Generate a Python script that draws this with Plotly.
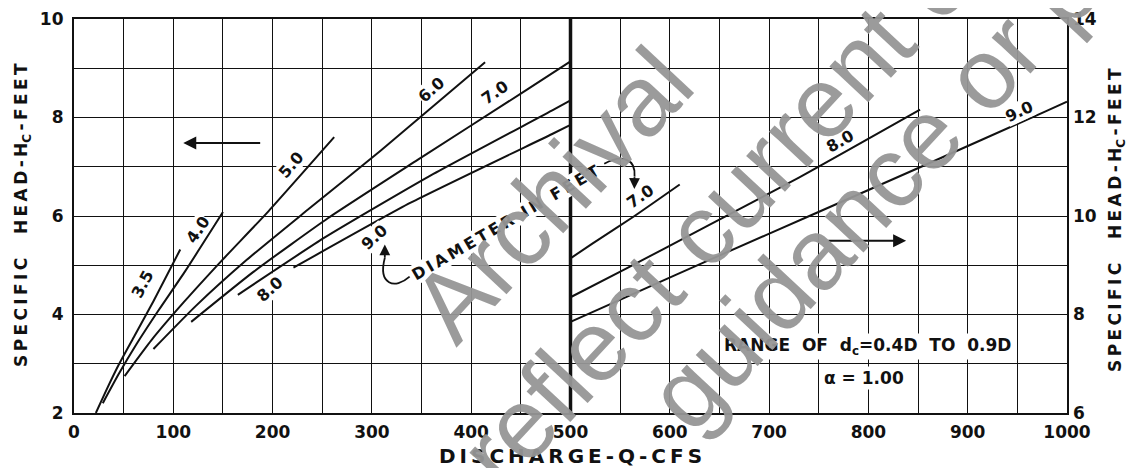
import plotly.graph_objects as go

# ---------------- data ----------------
# Left half: discharge 0-500 cfs, specific head on the LEFT scale (2-10 ft)
q_35 = [22, 32, 45, 61, 80, 107]
h_35 = [2.00, 2.44, 2.98, 3.57, 4.27, 5.32]
q_40 = [29, 45, 63, 85, 112, 150]
h_40 = [2.20, 2.79, 3.40, 4.08, 4.88, 6.08]
q_50 = [51, 78, 111, 149, 196, 262]
h_50 = [2.75, 3.48, 4.26, 5.10, 6.10, 7.60]
q_60 = [80, 123, 174, 235, 309, 414]
h_60 = [3.30, 4.18, 5.11, 6.12, 7.33, 9.12]
q_70_left = [118, 181, 256, 346, 455, 500]
h_70_left = [3.85, 4.87, 5.96, 7.14, 8.55, 9.14]
q_80_left = [165, 253, 358, 483, 500]
h_80_left = [4.40, 5.57, 6.81, 8.16, 8.35]
q_90_left = [221, 339, 481, 500]
h_90_left = [4.95, 6.27, 7.66, 7.85]

# Right half: discharge 500-1000 cfs, specific head on the RIGHT scale (6-14 ft)
q_70_right = [500, 522, 563, 610]
h_70_right = [9.14, 9.44, 9.98, 10.64]
q_80_right = [500, 555, 635, 730, 852]
h_80_right = [8.35, 8.92, 9.77, 10.78, 12.16]
q_90_right = [500, 561, 648, 744, 852, 979, 1000]
h_90_right = [7.85, 8.40, 9.18, 10.03, 10.99, 12.13, 12.32]

x_ticks = [0, 100, 200, 300, 400, 500, 600, 700, 800, 900, 1000]
y_left_ticks = [2, 4, 6, 8, 10]
y_right_ticks = [6, 8, 10, 12, 14]

left_curves = [(q_35, h_35), (q_40, h_40), (q_50, h_50), (q_60, h_60),
               (q_70_left, h_70_left), (q_80_left, h_80_left), (q_90_left, h_90_left)]
right_curves = [(q_70_right, h_70_right), (q_80_right, h_80_right), (q_90_right, h_90_right)]

# ---------------- figure ----------------
# the page body adds an 8px margin; the figure is sized to fit inside the window
BODY = 8
W, H = 1120, 460
ML, MR, MT, MB = 66, 61, 11, 55
PW, PH = W - ML - MR, H - MT - MB

FONT = "DejaVu Sans"
INK = "#111111"
TS = "\u2009"  # thin space used for the lettering's wide spacing


def spaced(s):
    return TS.join(list(s))


fig = go.Figure()
for q, h in left_curves:
    fig.add_trace(go.Scatter(x=q, y=h, mode="lines", yaxis="y",
                             line=dict(color=INK, width=2, shape="spline", smoothing=0.5),
                             showlegend=False, hoverinfo="skip"))
for q, h in right_curves:
    fig.add_trace(go.Scatter(x=q, y=h, mode="lines", yaxis="y2",
                             line=dict(color=INK, width=2, shape="spline", smoothing=0.5),
                             showlegend=False, hoverinfo="skip"))

tickfont = dict(family=FONT, size=17, color=INK, weight="bold")

fig.update_layout(
    width=W, height=H,
    margin=dict(l=ML, r=MR, t=MT, b=MB, pad=0, autoexpand=False),
    paper_bgcolor="white", plot_bgcolor="white",
    xaxis=dict(range=[0, 1000], tickmode="array", tickvals=x_ticks,
               ticktext=[str(v) for v in x_ticks], ticks="",
               showgrid=True, gridcolor=INK, gridwidth=1.4,
               minor=dict(dtick=50, tick0=0, showgrid=True, gridcolor=INK, gridwidth=1.4),
               showline=True, linecolor=INK, linewidth=2.2, mirror=True,
               zeroline=False, tickfont=tickfont, ticklabelstandoff=2, automargin=False),
    yaxis=dict(range=[2, 10], tickmode="array", tickvals=y_left_ticks,
               ticktext=[str(v) for v in y_left_ticks], ticks="",
               showgrid=True, gridcolor=INK, gridwidth=1.4,
               minor=dict(dtick=1, tick0=0, showgrid=True, gridcolor=INK, gridwidth=1.4),
               showline=True, linecolor=INK, linewidth=2.2, mirror=True,
               zeroline=False, tickfont=tickfont, ticklabelstandoff=5, automargin=False),
    yaxis2=dict(range=[6, 14], overlaying="y", side="right", anchor="x",
                tickmode="array", tickvals=y_right_ticks,
                ticktext=[str(v) for v in y_right_ticks], ticks="",
                showgrid=False, zeroline=False, showline=False,
                tickfont=tickfont, ticklabelstandoff=5, automargin=False),
)

# heavy divider at Q = 500
fig.add_shape(type="line", xref="x", yref="paper", x0=500, x1=500, y0=0, y1=1,
              line=dict(color=INK, width=3.5))


def px_to_paper(sx, sy):
    """screen pixel (window coords) -> paper coords"""
    fx, fy = sx - BODY, sy - BODY
    return (fx - ML) / PW, (H - MB - fy) / PH


def note(**kw):
    kw.setdefault("xanchor", "center")
    kw.setdefault("yanchor", "middle")
    kw.setdefault("showarrow", False)
    fig.add_annotation(**kw)


# axis titles
title_font = dict(family=FONT, size=17, color=INK, weight="bold")
x0, y0 = px_to_paper(22, 215)
note(text=spaced("SPECIFIC") + "    " + spaced("HEAD-H") + "<sub>C</sub>" + TS + spaced("-FEET"),
     xref="paper", yref="paper", x=x0, y=y0, textangle=-90, font=title_font)
x0, y0 = px_to_paper(1116, 220)
note(text=spaced("SPECIFIC") + "    " + spaced("HEAD-H") + "<sub>C</sub>" + TS + spaced("-FEET"),
     xref="paper", yref="paper", x=x0, y=y0, textangle=-90, font=title_font)
x0, y0 = px_to_paper(570, 456)
note(text=spaced("DISCHARGE-Q-CFS"), xref="paper", yref="paper", x=x0, y=y0,
     font=dict(family=FONT, size=20, color=INK, weight="bold"))

# curve labels
label_font = dict(family=FONT, size=16, color=INK, weight="bold")
labels = [
    ("3.5", 69, 4.60, "y", -62),
    ("4.0", 125, 5.72, "y", -56),
    ("5.0", 219, 7.04, "y", -49),
    ("6.0", 360, 8.57, "y", -41),
    ("7.0", 424, 8.50, "y", -35),
    ("9.0", 302, 5.57, "y", -42),
    ("8.0", 197, 4.50, "y", -42),
    ("7.0", 570, 10.40, "y2", -35),
    ("8.0", 771, 11.51, "y2", -30),
    ("9.0", 952, 12.12, "y2", -25),
]
for txt, x, y, yr, ang in labels:
    note(text=txt, x=x, y=y, xref="x", yref=yr, textangle=ang,
         font=label_font, bgcolor="white", borderpad=0)

note(text=spaced("DIAMETER") + "  " + spaced("IN") + "  " + spaced("FEET"),
     x=435, y=5.86, xref="x", yref="y", textangle=-30, bgcolor="white", borderpad=0,
     font=dict(family=FONT, size=16, color=INK, weight="bold"))

note(text="RANGE  OF  d<sub>c</sub>=0.4D  TO  0.9D", x=799, y=3.35,
     xref="x", yref="y", bgcolor="white", borderpad=1,
     font=dict(family=FONT, size=17, color=INK, weight="bold"))
note(text="α = 1.00", x=796, y=2.71, xref="x", yref="y", bgcolor="white", borderpad=1,
     font=dict(family=FONT, size=17, color=INK, weight="bold"))

# straight arrows
fig.add_annotation(x=110, y=7.48, ax=189, ay=7.48, xref="x", yref="y", axref="x", ayref="y",
                   text="", showarrow=True, arrowhead=2, arrowsize=1.3, arrowwidth=2, arrowcolor=INK)
fig.add_annotation(x=838, y=9.50, ax=758, ay=9.50, xref="x", yref="y2", axref="x", ayref="y2",
                   text="", showarrow=True, arrowhead=2, arrowsize=1.3, arrowwidth=2, arrowcolor=INK)

# curved arrows
fig.add_shape(type="path", xref="x", yref="y",
              path="M 338,4.77 C 323,4.50 306,4.61 313,5.15",
              line=dict(color=INK, width=1.8))
fig.add_annotation(x=313, y=5.42, ax=313, ay=5.12, xref="x", yref="y", axref="x", ayref="y",
                   text="", showarrow=True, arrowhead=2, arrowsize=1.2, arrowwidth=1.8, arrowcolor=INK)
fig.add_shape(type="path", xref="x", yref="y",
              path="M 534,7.06 C 552,7.26 566,7.16 564.5,6.80",
              line=dict(color=INK, width=1.8))
fig.add_annotation(x=564.3, y=6.55, ax=564.5, ay=6.82, xref="x", yref="y", axref="x", ayref="y",
                   text="", showarrow=True, arrowhead=2, arrowsize=1.2, arrowwidth=1.8, arrowcolor=INK)

# watermark (diagonal grey lettering over the chart)
wm_font = dict(family="Liberation Sans", size=100, color="rgba(150,150,150,0.95)")
watermarks = [
    ("Archival", 552, 194),
    ("r reflect current c", 692, 240),
    ("guidance or p", 873, 191),
]
for txt, sx, sy in watermarks:
    xp, yp = px_to_paper(sx, sy)
    note(text=txt, xref="paper", yref="paper", x=xp, y=yp, textangle=-47, font=wm_font)

fig.write_html("out.html")
